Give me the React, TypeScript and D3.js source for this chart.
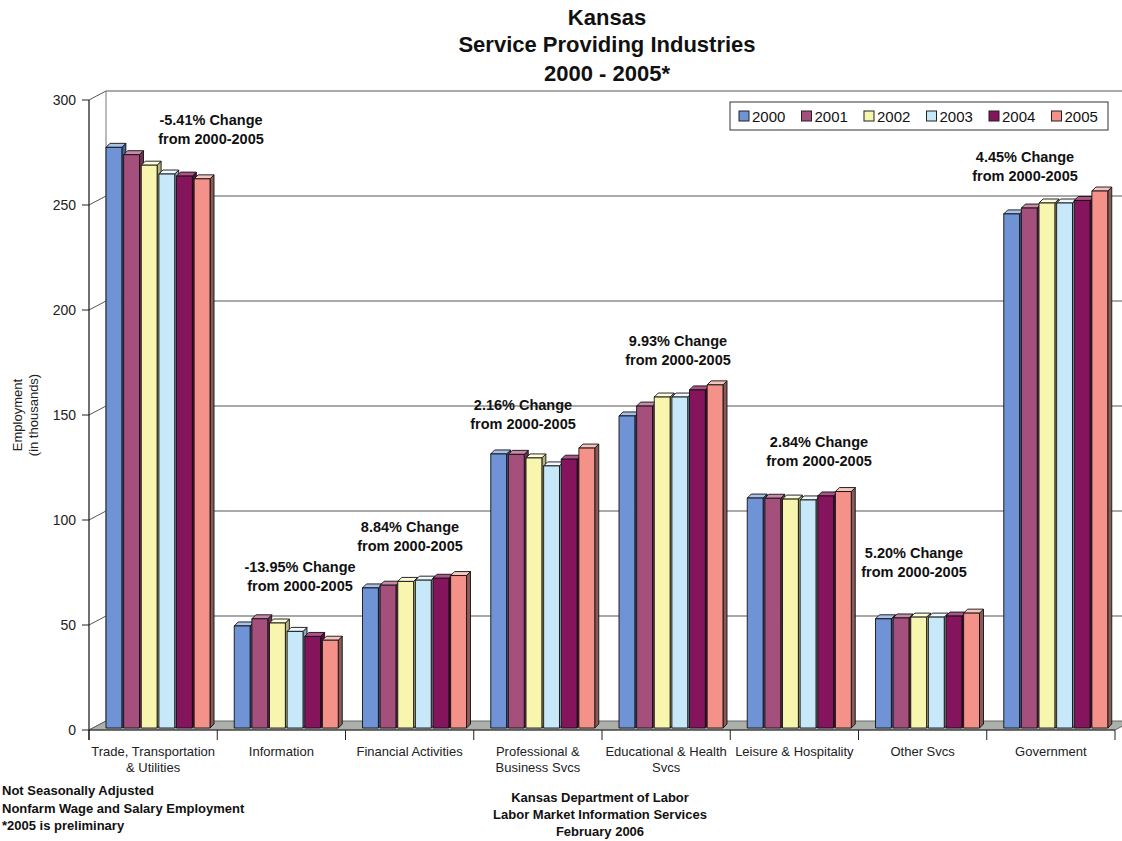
import React from "react";
import * as d3 from "d3";

const categories = [
  ["Trade, Transportation", "& Utilities"],
  ["Information"],
  ["Financial Activities"],
  ["Professional &", "Business Svcs"],
  ["Educational & Health", "Svcs"],
  ["Leisure & Hospitality"],
  ["Other Svcs"],
  ["Government"],
];
const years = ["2000", "2001", "2002", "2003", "2004", "2005"];
const v2000 = [276.5, 48.6, 66.7, 130.5, 148.6, 109.5, 52.0, 244.8];
const v2001 = [273.0, 52.0, 68.0, 130.3, 153.3, 109.4, 52.4, 247.6];
const v2002 = [268.0, 50.0, 69.8, 128.6, 157.6, 109.0, 52.8, 250.0];
const v2003 = [263.8, 46.0, 70.4, 124.8, 157.6, 108.6, 52.8, 250.0];
const v2004 = [262.8, 43.6, 71.3, 128.0, 161.0, 110.5, 53.3, 251.2];
const v2005 = [261.5, 41.8, 72.6, 133.3, 163.4, 112.6, 54.7, 255.7];
const series = [v2000, v2001, v2002, v2003, v2004, v2005];
const changes = ["-5.41%", "-13.95%", "8.84%", "2.16%", "9.93%", "2.84%", "5.20%", "4.45%"];
const changeLabelPos: [number, number][] = [
  [211, 120], [300, 567], [410, 527], [523, 405], [678, 341], [819, 442], [914, 553], [1025, 157],
];
const yTicks = [0, 50, 100, 150, 200, 250, 300];
const colors = ["#6f93d4", "#a5507c", "#f8f6ae", "#c6e8f8", "#84145c", "#f4928a"];
const sideColors = ["#44609a", "#6e3050", "#b4b27a", "#88a8b8", "#520a38", "#8a5a5a"];
const topColors = ["#a8c0ec", "#c88aa8", "#ffffe0", "#eef8ff", "#b05088", "#f8c4c0"];
const leftNotes = ["Not Seasonally Adjusted", "Nonfarm Wage and Salary Employment", "*2005 is preliminary"];
const centerNotes = ["Kansas Department of Labor", "Labor Market Information Services", "February 2006"];

export default function App() {
  const W = 1122, H = 841;
  const x0 = 89, x1 = 1115;
  const depthX = 17, depthY = -9;
  const y = d3.scaleLinear().domain([0, 300]).range([730, 100]);
  const xBand = d3.scaleBand<number>().domain(d3.range(categories.length)).range([x0, x1]);
  const inner = d3.scaleBand<string>().domain(years).range([17, 121]).paddingInner(0.1);
  const bw = inner.bandwidth();
  const bdx = 4, bdy = -4;
  const font = "Liberation Sans, Arial, sans-serif";

  const bars: React.ReactNode[] = [];
  categories.forEach((_, ci) => {
    years.forEach((yr, si) => {
      const v = series[si][ci];
      const bx = (xBand(ci) as number) + (inner(yr) as number);
      const base = y(0) - 2;
      const top = y(v) - 2;
      const outline = { stroke: "#111", strokeWidth: 0.9, strokeLinejoin: "round" as const };
      bars.push(
        <g key={`${ci}-${si}`}>
          <polygon
            points={`${bx + bw},${base} ${bx + bw + bdx},${base + bdy} ${bx + bw + bdx},${top + bdy} ${bx + bw},${top}`}
            fill={sideColors[si]}
            {...outline}
          />
          <polygon
            points={`${bx},${top} ${bx + bdx},${top + bdy} ${bx + bw + bdx},${top + bdy} ${bx + bw},${top}`}
            fill={topColors[si]}
            {...outline}
          />
          <rect x={bx} y={top} width={bw} height={base - top} fill={colors[si]} {...outline} />
        </g>
      );
    });
  });

  return (
    <svg width={W} height={H} style={{ display: "block", position: "absolute", left: 0, top: 0, background: "#fff" }}>
      {/* title */}
      <g fontFamily={font} fontWeight="bold" fontSize={22} textAnchor="middle" fill="#111">
        <text x={607} y={25}>Kansas</text>
        <text x={607} y={52}>Service Providing Industries</text>
        <text x={607} y={81}>2000 - 2005*</text>
      </g>

      {/* back wall gridlines */}
      {yTicks.map((t) => (
        <g key={t}>
          <line x1={x0 - 7} x2={x0} y1={y(t)} y2={y(t)} stroke="#222" strokeWidth={1} />
          <line x1={x0} x2={x0 + depthX} y1={y(t)} y2={y(t) + depthY} stroke="#555" strokeWidth={1} />
          {t > 0 && (
            <line x1={x0 + depthX} x2={W + 10} y1={y(t) + depthY} y2={y(t) + depthY} stroke="#555" strokeWidth={1} />
          )}
          <text x={76} y={y(t) + 5} textAnchor="end" fontFamily={font} fontSize={14} fill="#222">{t}</text>
        </g>
      ))}
      <line x1={x0 + depthX} x2={x0 + depthX} y1={y(300) + depthY} y2={y(0) + depthY} stroke="#777" strokeWidth={1} />

      {/* floor */}
      <polygon
        points={`${x0},${y(0)} ${x1},${y(0)} ${x1 + depthX},${y(0) + depthY} ${x0 + depthX},${y(0) + depthY}`}
        fill="#acb0aa"
        stroke="#666"
        strokeWidth={1}
      />

      {bars}

      {/* axes */}
      <line x1={x0} x2={x0} y1={y(300)} y2={y(0) + 10} stroke="#111" strokeWidth={1.2} />
      <line x1={x0} x2={x1} y1={y(0)} y2={y(0)} stroke="#333" strokeWidth={1.2} />
      {d3.range(categories.length + 1).map((i) => {
        const xx = i < categories.length ? (xBand(i) as number) : x1;
        return <line key={i} x1={xx} x2={xx} y1={y(0)} y2={y(0) + 10} stroke="#222" strokeWidth={1} />;
      })}
      {categories.map((lines, ci) => (
        <text key={ci} textAnchor="middle" fontFamily={font} fontSize={13} fill="#222">
          {lines.map((l, li) => (
            <tspan key={li} x={(xBand(ci) as number) + xBand.bandwidth() / 2} y={756 + li * 16}>{l}</tspan>
          ))}
        </text>
      ))}

      {/* y axis title */}
      <g transform="translate(26,415) rotate(-90)" fontFamily={font} fontSize={13} textAnchor="middle" fill="#222">
        <text x={0} y={-4}>Employment</text>
        <text x={0} y={12}>(in thousands)</text>
      </g>

      {/* change annotations */}
      {changes.map((c, i) => (
        <text key={i} textAnchor="middle" fontFamily={font} fontWeight="bold" fontSize={14.5} fill="#111">
          <tspan x={changeLabelPos[i][0]} y={changeLabelPos[i][1] + 5}>{`${c} Change`}</tspan>
          <tspan x={changeLabelPos[i][0]} y={changeLabelPos[i][1] + 24}>from 2000-2005</tspan>
        </text>
      ))}

      {/* legend */}
      <rect x={730} y={102} width={378} height={28} fill="#fff" stroke="#333" strokeWidth={1} />
      {years.map((yr, i) => (
        <g key={yr} transform={`translate(${739 + i * 62.5},116)`}>
          <rect x={0} y={-5} width={10} height={10} fill={colors[i]} stroke="#222" strokeWidth={1} />
          <text x={13} y={5.5} fontFamily={font} fontSize={15} fill="#111">{yr}</text>
        </g>
      ))}

      {/* notes */}
      {leftNotes.map((n, i) => (
        <text key={i} x={2} y={795 + i * 17.5} fontFamily={font} fontWeight="bold" fontSize={13} fill="#111">{n}</text>
      ))}
      {centerNotes.map((n, i) => (
        <text key={i} x={600} y={802 + i * 17} textAnchor="middle" fontFamily={font} fontWeight="bold" fontSize={13} fill="#111">{n}</text>
      ))}
    </svg>
  );
}
